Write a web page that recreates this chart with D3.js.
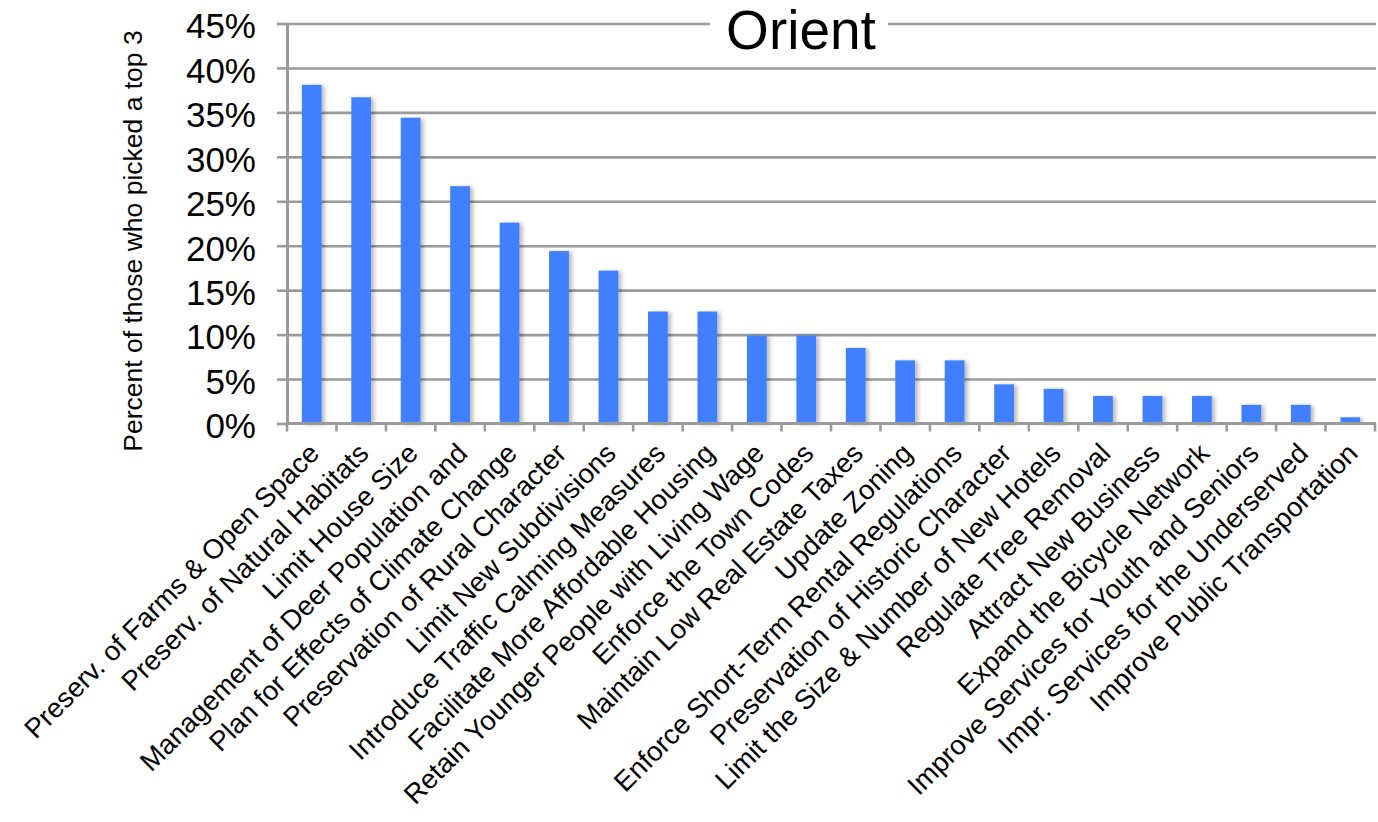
<!DOCTYPE html>
<html>
<head>
<meta charset="utf-8">
<script src="https://cdn.jsdelivr.net/npm/d3@7"></script>
<style>
  body { margin: 0; background: #fff; }
  svg { display: block; }
  text { font-family: "Liberation Sans", Arial, Helvetica, sans-serif; fill: #000; }
</style>
</head>
<body>
<svg id="chart" width="1378" height="822"></svg>
<script>
// Share of respondents who picked each priority in their top 3
const categories = [
  "Preserv. of Farms & Open Space",
  "Preserv. of Natural Habitats",
  "Limit House Size",
  "Management of Deer Population and",
  "Plan for Effects of Climate Change",
  "Preservation of Rural Character",
  "Limit New Subdivisions",
  "Introduce Traffic Calming Measures",
  "Facilitate More Affordable Housing",
  "Retain Younger People with Living Wage",
  "Enforce the Town Codes",
  "Maintain Low Real Estate Taxes",
  "Update Zoning",
  "Enforce Short-Term Rental Regulations",
  "Preservation of Historic Character",
  "Limit the Size & Number of New Hotels",
  "Regulate Tree Removal",
  "Attract New Business",
  "Expand the Bicycle Network",
  "Improve Services for Youth and Seniors",
  "Impr. Services for the Underserved",
  "Improve Public Transportation"
];
const values = [
  0.381, 0.367, 0.344, 0.267, 0.226, 0.194, 0.172, 0.126, 0.126, 0.099, 0.099,
  0.085, 0.071, 0.071, 0.044, 0.039, 0.031, 0.031, 0.031, 0.021, 0.021, 0.007
];
const yTicks = [0, 0.05, 0.10, 0.15, 0.20, 0.25, 0.30, 0.35, 0.40, 0.45];
const chartTitle = "Orient";
const yTitle = "Percent of those who picked a top 3";

const svg = d3.select("#chart");
const plot = { left: 287, right: 1376, top: 23.5, bottom: 423.5 };
const gridColor = "#9a9a9a";

const x = d3.scaleBand()
  .domain(categories)
  .range([plot.left, 1375])
  .paddingInner(0.6)
  .paddingOuter(0.3);
const y = d3.scaleLinear().domain([0, 0.45]).range([plot.bottom, plot.top]);

// soft shadow behind each bar
const filter = svg.append("defs").append("filter")
  .attr("id", "barShadow")
  .attr("x", "-50%").attr("y", "-10%").attr("width", "200%").attr("height", "120%");
filter.append("feDropShadow")
  .attr("dx", 3).attr("dy", 1).attr("stdDeviation", 2.2)
  .attr("flood-color", "#000").attr("flood-opacity", 0.28);

// horizontal gridlines
svg.append("g")
  .attr("transform", `translate(${plot.left},0)`)
  .call(d3.axisLeft(y).tickValues(yTicks.slice(1)).tickSize(-(plot.right - plot.left)).tickFormat(""))
  .call(g => g.select(".domain").remove())
  .call(g => g.selectAll(".tick line").attr("stroke", gridColor).attr("stroke-width", 2.6));

// title on a white box that interrupts the top gridline
svg.append("rect")
  .attr("x", 710).attr("y", 0).attr("width", 178).attr("height", 64)
  .attr("fill", "#fff");
svg.append("text")
  .attr("x", 801).attr("y", 49)
  .attr("text-anchor", "middle")
  .attr("font-size", 55)
  .text(chartTitle);

// bars
svg.append("g")
  .selectAll("rect")
  .data(categories)
  .join("rect")
  .attr("x", d => x(d))
  .attr("y", (d, i) => y(values[i]))
  .attr("width", x.bandwidth())
  .attr("height", (d, i) => y(0) - y(values[i]))
  .attr("fill", "#4080ff")
  .attr("filter", "url(#barShadow)");

// y axis with percent labels
svg.append("g")
  .attr("transform", `translate(${plot.left},0)`)
  .call(d3.axisLeft(y).tickValues(yTicks).tickSize(10).tickSizeOuter(0).tickPadding(21)
    .tickFormat(d3.format(".0%")))
  .call(g => g.select(".domain").attr("stroke", gridColor).attr("stroke-width", 3))
  .call(g => g.selectAll(".tick line").attr("stroke", gridColor).attr("stroke-width", 2.6))
  .call(g => g.selectAll(".tick text")
    .attr("font-size", 35).attr("fill", "#000").attr("font-family", null)
    .attr("dy", "0.41em"));

// x axis line, with ticks on the band boundaries
const step = x.step();
const boundaries = categories.map(c => x(c) + x.bandwidth() / 2 - step / 2)
  .concat([x(categories[categories.length - 1]) + x.bandwidth() / 2 + step / 2]);
const xAxis = svg.append("g");
xAxis.append("line")
  .attr("x1", plot.left).attr("x2", plot.right)
  .attr("y1", y(0)).attr("y2", y(0))
  .attr("stroke", gridColor).attr("stroke-width", 3);
xAxis.selectAll("line.tick")
  .data(boundaries)
  .join("line")
  .attr("class", "tick")
  .attr("x1", d => d).attr("x2", d => d)
  .attr("y1", y(0)).attr("y2", y(0) + 8)
  .attr("stroke", gridColor).attr("stroke-width", 2.6);

// rotated category labels
xAxis.selectAll("text")
  .data(categories)
  .join("text")
  .attr("transform", d => `translate(${x(d) + x.bandwidth() / 2 + 9},455) rotate(-45)`)
  .attr("text-anchor", "end")
  .attr("font-size", 27.5)
  .text(d => d);

// y axis title
svg.append("text")
  .attr("transform", "translate(142,241) rotate(-90)")
  .attr("text-anchor", "middle")
  .attr("font-size", 26.5)
  .text(yTitle);
</script>
</body>
</html>
